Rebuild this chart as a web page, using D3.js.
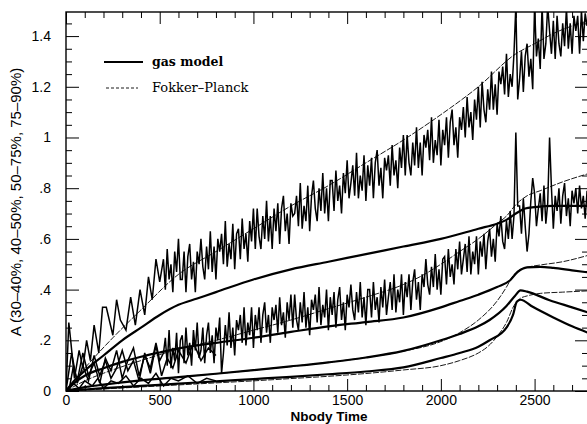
<!DOCTYPE html>
<html>
<head>
<meta charset="utf-8">
<script src="https://cdn.jsdelivr.net/npm/d3@7"></script>
<style>
  body { margin: 0; background: #fff; }
  svg { display: block; }
</style>
</head>
<body>
<div id="chart"></div>
<script>
// axis ticks
const xMajor = [0, 500, 1000, 1500, 2000, 2500];
const yMajor = [0, 0.2, 0.4, 0.6, 0.8, 1.0, 1.2, 1.4];
const yLabels = ["0", ".2", ".4", ".6", ".8", "1", "1.2", "1.4"];

// N-body runs: sparse early samples, then dense samples every 10 time units
const topEarlyT = [0, 15, 25, 45, 70, 90, 110, 130, 150, 175, 195, 215, 250, 270, 290, 320, 345, 370, 395, 420, 440, 460, 480, 500];
const topEarlyA = [0, 0.27, 0.20, 0.05, 0.16, 0.09, 0.20, 0.12, 0.26, 0.15, 0.33, 0.33, 0.22, 0.36, 0.28, 0.24, 0.37, 0.26, 0.40, 0.30, 0.45, 0.36, 0.52, 0.43];
const denseT = d3.range(520, 2781, 10);
const topDenseA = [
  0.52, 0.40, 0.56, 0.44, 0.50, 0.39, 0.55, 0.47, 0.60, 0.44,
  0.44, 0.55, 0.39, 0.53, 0.58, 0.44, 0.51, 0.39, 0.55, 0.50,
  0.60, 0.49, 0.44, 0.57, 0.48, 0.63, 0.47, 0.57, 0.44, 0.60,
  0.55, 0.62, 0.50, 0.67, 0.49, 0.58, 0.52, 0.66, 0.48, 0.62,
  0.64, 0.52, 0.68, 0.56, 0.62, 0.51, 0.67, 0.59, 0.72, 0.56,
  0.72, 0.61, 0.56, 0.69, 0.60, 0.75, 0.59, 0.69, 0.56, 0.72,
  0.63, 0.74, 0.58, 0.72, 0.77, 0.63, 0.70, 0.58, 0.74, 0.69,
  0.70, 0.77, 0.65, 0.82, 0.64, 0.73, 0.67, 0.81, 0.63, 0.77,
  0.83, 0.72, 0.67, 0.80, 0.71, 0.86, 0.70, 0.80, 0.67, 0.83,
  0.83, 0.71, 0.87, 0.75, 0.81, 0.70, 0.86, 0.78, 0.91, 0.76,
  0.82, 0.89, 0.77, 0.94, 0.76, 0.85, 0.79, 0.93, 0.75, 0.89,
  0.81, 0.92, 0.76, 0.90, 0.95, 0.81, 0.88, 0.76, 0.92, 0.87,
  0.93, 0.81, 0.97, 0.85, 0.91, 0.80, 0.96, 0.88, 1.01, 0.85,
  1.01, 0.90, 0.85, 0.98, 0.89, 1.04, 0.88, 0.98, 0.85, 1.01,
  0.96, 1.03, 0.91, 1.08, 0.90, 0.99, 0.93, 1.07, 0.89, 1.03,
  0.97, 1.08, 0.92, 1.06, 1.11, 0.97, 1.04, 0.92, 1.08, 1.03,
  1.12, 1.00, 1.16, 1.04, 1.10, 0.99, 1.15, 1.07, 1.20, 1.04,
  1.22, 1.11, 1.06, 1.19, 1.11, 1.26, 1.11, 1.21, 1.09, 1.26,
  1.21, 1.28, 1.17, 1.33, 1.16, 1.25, 1.20, 1.33, 1.52, 1.15,
  1.23, 1.34, 1.18, 1.32, 1.37, 1.24, 1.31, 1.19, 1.52, 1.32,
  1.39, 1.27, 1.52, 1.31, 1.37, 1.52, 1.42, 1.33, 1.46, 1.31,
  1.48, 1.37, 1.32, 1.45, 1.36, 1.51, 1.35, 1.45, 1.33, 1.48,
  1.42, 1.48, 1.33, 1.50, 1.38, 1.49, 1.44
];
const midEarlyT = [0, 20, 40, 60, 90, 120, 150, 180, 210, 240, 270, 300, 330, 360, 390, 420, 450, 480, 500];
const midEarlyA = [0, 0.02, 0.10, 0.04, 0.15, 0.06, 0.11, 0.03, 0.13, 0.08, 0.16, 0.05, 0.12, 0.17, 0.06, 0.14, 0.09, 0.19, 0.12];
const midDenseA = [
  0.15, 0.21, 0.10, 0.24, 0.09, 0.17, 0.12, 0.23, 0.07, 0.20,
  0.22, 0.11, 0.25, 0.14, 0.19, 0.10, 0.24, 0.16, 0.27, 0.13,
  0.16, 0.25, 0.11, 0.22, 0.27, 0.15, 0.22, 0.11, 0.25, 0.20,
  0.29, 0.07, 0.15, 0.26, 0.18, 0.31, 0.17, 0.25, 0.14, 0.28,
  0.24, 0.30, 0.19, 0.33, 0.18, 0.27, 0.22, 0.33, 0.17, 0.30,
  0.24, 0.33, 0.19, 0.30, 0.35, 0.23, 0.30, 0.19, 0.33, 0.28,
  0.34, 0.23, 0.37, 0.26, 0.31, 0.21, 0.35, 0.28, 0.38, 0.25,
  0.38, 0.28, 0.24, 0.35, 0.27, 0.39, 0.25, 0.33, 0.22, 0.36,
  0.32, 0.38, 0.27, 0.41, 0.26, 0.34, 0.29, 0.40, 0.24, 0.37,
  0.30, 0.39, 0.25, 0.36, 0.41, 0.28, 0.35, 0.24, 0.38, 0.33,
  0.42, 0.32, 0.28, 0.39, 0.31, 0.43, 0.29, 0.37, 0.26, 0.40,
  0.40, 0.29, 0.43, 0.32, 0.37, 0.27, 0.41, 0.33, 0.44, 0.30,
  0.37, 0.43, 0.32, 0.46, 0.31, 0.40, 0.35, 0.46, 0.30, 0.43,
  0.37, 0.46, 0.32, 0.43, 0.48, 0.36, 0.43, 0.32, 0.46, 0.41,
  0.52, 0.42, 0.38, 0.49, 0.41, 0.54, 0.40, 0.48, 0.38, 0.52,
  0.53, 0.42, 0.56, 0.45, 0.50, 0.42, 0.56, 0.48, 0.59, 0.46,
  0.52, 0.58, 0.47, 0.61, 0.46, 0.55, 0.50, 0.61, 0.46, 0.59,
  0.53, 0.62, 0.48, 0.59, 0.64, 0.53, 0.60, 0.51, 0.66, 0.61,
  0.69, 0.59, 0.56, 0.67, 0.60, 0.71, 0.60, 0.69, 1.02, 0.73,
  0.73, 0.62, 0.76, 0.65, 0.55, 0.62, 0.75, 0.84, 0.78, 0.65,
  0.72, 0.78, 0.67, 0.81, 0.66, 0.74, 1.00, 0.80, 0.64, 0.77,
  0.71, 0.80, 0.66, 0.77, 0.82, 0.69, 0.76, 0.65, 0.79, 0.74,
  0.80, 0.70, 0.81, 0.72, 0.77, 0.68, 0.79
];
const low40T = [0, 30, 60, 90, 120, 150, 180, 210, 240, 270, 300, 330, 360, 390, 420, 450, 480, 510, 540, 570, 600, 640, 680, 720, 760, 800];
const low40A = [0, 0.15, 0.03, 0.10, 0.04, 0.14, 0.06, 0.12, 0.05, 0.09, 0.16, 0.08, 0.12, 0.04, 0.15, 0.07, 0.18, 0.06, 0.13, 0.09, 0.16, 0.11, 0.19, 0.12, 0.17, 0.14];
const low30T = [0, 40, 70, 100, 140, 170, 200, 240, 280, 320, 360, 400, 440, 480, 520, 560, 600, 650, 700, 750, 800];
const low30A = [0, 0.03, 0.01, 0.04, 0.02, 0.05, 0.01, 0.04, 0.03, 0.06, 0.02, 0.05, 0.03, 0.07, 0.02, 0.05, 0.04, 0.06, 0.03, 0.05, 0.04];

// gas model curves
const gas1T = [0, 50, 100, 200, 300, 400, 500, 600, 700, 800, 1000, 1200, 1400, 1600, 1800, 2000, 2200, 2300, 2350, 2400, 2450, 2500, 2600, 2700, 2785];
const gas1A = [0, 0.045, 0.08, 0.14, 0.20, 0.25, 0.30, 0.34, 0.365, 0.39, 0.44, 0.48, 0.51, 0.54, 0.57, 0.60, 0.64, 0.66, 0.675, 0.70, 0.72, 0.725, 0.73, 0.73, 0.73];
const gas2T = [0, 50, 100, 200, 300, 400, 500, 600, 800, 1000, 1200, 1400, 1600, 1800, 2000, 2100, 2200, 2300, 2370, 2410, 2460, 2530, 2600, 2700, 2785];
const gas2A = [0, 0.035, 0.06, 0.09, 0.115, 0.135, 0.152, 0.168, 0.19, 0.21, 0.233, 0.255, 0.272, 0.29, 0.33, 0.355, 0.38, 0.41, 0.437, 0.47, 0.488, 0.49, 0.486, 0.476, 0.468];
const gas3T = [0, 100, 200, 400, 600, 800, 1000, 1200, 1400, 1600, 1800, 2000, 2100, 2200, 2260, 2350, 2395, 2425, 2460, 2580, 2700, 2785];
const gas3A = [0, 0.015, 0.025, 0.042, 0.055, 0.068, 0.082, 0.097, 0.113, 0.132, 0.158, 0.2, 0.225, 0.255, 0.28, 0.335, 0.375, 0.397, 0.392, 0.358, 0.33, 0.31];
const gas4T = [0, 100, 200, 400, 600, 800, 1000, 1200, 1400, 1600, 1800, 2000, 2100, 2200, 2260, 2350, 2385, 2405, 2425, 2490, 2600, 2700, 2785];
const gas4A = [0, 0.006, 0.011, 0.02, 0.029, 0.038, 0.047, 0.056, 0.066, 0.077, 0.093, 0.13, 0.15, 0.175, 0.2, 0.25, 0.3, 0.352, 0.36, 0.332, 0.29, 0.255, 0.23];

// Fokker-Planck curves
const fp1T = [0, 100, 250, 400, 600, 800, 1000, 1200, 1400, 1600, 1800, 2000, 2200, 2400, 2500, 2600, 2700, 2785];
const fp1A = [0, 0.09, 0.21, 0.32, 0.46, 0.55, 0.64, 0.73, 0.81, 0.90, 0.99, 1.09, 1.20, 1.33, 1.37, 1.41, 1.44, 1.46];
const fp2T = [0, 100, 200, 400, 600, 800, 1000, 1200, 1400, 1600, 1800, 1900, 2000, 2100, 2200, 2300, 2350, 2400, 2460, 2530, 2650, 2785];
const fp2A = [0, 0.04, 0.07, 0.12, 0.165, 0.2, 0.24, 0.28, 0.325, 0.37, 0.42, 0.455, 0.5, 0.55, 0.6, 0.66, 0.69, 0.735, 0.77, 0.79, 0.825, 0.857];
const fp3T = [0, 200, 400, 600, 800, 1000, 1200, 1400, 1600, 1800, 2000, 2100, 2200, 2300, 2350, 2385, 2420, 2460, 2530, 2650, 2785];
const fp3A = [0, 0.025, 0.042, 0.055, 0.068, 0.082, 0.097, 0.113, 0.132, 0.157, 0.195, 0.23, 0.28, 0.355, 0.41, 0.455, 0.478, 0.488, 0.497, 0.51, 0.535];
const fp4T = [0, 200, 400, 600, 800, 1000, 1200, 1400, 1600, 1800, 2000, 2100, 2200, 2250, 2300, 2353, 2385, 2423, 2460, 2530, 2650, 2785];
const fp4A = [0, 0.008, 0.016, 0.024, 0.032, 0.04, 0.049, 0.058, 0.069, 0.083, 0.1, 0.12, 0.15, 0.175, 0.215, 0.275, 0.33, 0.365, 0.375, 0.385, 0.39, 0.395];

const W = 587, H = 424;
const box = {left: 66, right: 588, top: 12, bottom: 391};

const svg = d3.select("#chart").append("svg")
  .attr("width", W).attr("height", H);

const x = d3.scaleLinear().domain([0, 2785]).range([box.left, box.right]);
const y = d3.scaleLinear().domain([0, 1.495]).range([box.bottom, box.top]);

const zip = (ts, as) => ts.map((t, i) => [t, as[i]]);

svg.append("clipPath").attr("id", "plot")
  .append("rect")
    .attr("x", box.left).attr("y", box.top)
    .attr("width", box.right - box.left).attr("height", box.bottom - box.top);

const g = svg.append("g").attr("clip-path", "url(#plot)");

const rough = d3.line().x(d => x(d[0])).y(d => y(d[1]));
const smooth = d3.line().x(d => x(d[0])).y(d => y(d[1])).curve(d3.curveMonotoneX);

// N-body data
const nbody = [
  zip(low30T, low30A),
  zip(low40T, low40A),
  zip(midEarlyT.concat(denseT), midEarlyA.concat(midDenseA)),
  zip(topEarlyT.concat(denseT), topEarlyA.concat(topDenseA))
];
g.selectAll("path.nbody").data(nbody).join("path")
  .attr("class", "nbody")
  .attr("fill", "none").attr("stroke", "#000")
  .attr("stroke-width", 1.5).attr("stroke-linejoin", "miter")
  .attr("d", rough);

// Fokker-Planck
const fp = [zip(fp1T, fp1A), zip(fp2T, fp2A), zip(fp3T, fp3A), zip(fp4T, fp4A)];
g.selectAll("path.fp").data(fp).join("path")
  .attr("class", "fp")
  .attr("fill", "none").attr("stroke", "#000")
  .attr("stroke-width", 0.9).attr("stroke-dasharray", "6,1.5")
  .attr("d", smooth);

// gas model
const gas = [zip(gas1T, gas1A), zip(gas2T, gas2A), zip(gas3T, gas3A), zip(gas4T, gas4A)];
g.selectAll("path.gas").data(gas).join("path")
  .attr("class", "gas")
  .attr("fill", "none").attr("stroke", "#000")
  .attr("stroke-width", 2.2)
  .attr("d", smooth);

// axes: ticks on all four sides, pointing inward
const font = "'Liberation Sans', Arial, sans-serif";
const xMinor = d3.range(0, 2785, 100).filter(v => v % 500 !== 0);
const yMinor = d3.range(0, 1.495, 0.05).filter((v, i) => i % 4 !== 0);

function styleAxis(sel) {
  sel.select(".domain").remove();
  sel.selectAll("line").attr("stroke", "#000").attr("stroke-width", 1);
  sel.selectAll("text").attr("font-family", font).attr("font-size", 14).attr("fill", "#000");
}

svg.append("g").attr("transform", `translate(0,${box.bottom})`)
  .call(d3.axisBottom(x).tickValues(xMajor).tickSize(-12).tickPadding(4).tickFormat(d3.format("d")))
  .call(styleAxis);
svg.append("g").attr("transform", `translate(0,${box.bottom})`)
  .call(d3.axisBottom(x).tickValues(xMinor).tickSize(-6).tickFormat(""))
  .call(styleAxis);
svg.append("g").attr("transform", `translate(0,${box.top})`)
  .call(d3.axisTop(x).tickValues(xMajor).tickSize(-12).tickFormat(""))
  .call(styleAxis);
svg.append("g").attr("transform", `translate(0,${box.top})`)
  .call(d3.axisTop(x).tickValues(xMinor).tickSize(-6).tickFormat(""))
  .call(styleAxis);

svg.append("g").attr("transform", `translate(${box.left},0)`)
  .call(d3.axisLeft(y).tickValues(yMajor).tickSize(-13).tickPadding(15)
    .tickFormat((d, i) => yLabels[i]))
  .call(styleAxis);
svg.append("g").attr("transform", `translate(${box.left},0)`)
  .call(d3.axisLeft(y).tickValues(yMinor).tickSize(-6).tickFormat(""))
  .call(styleAxis);
svg.append("g").attr("transform", `translate(${box.right},0)`)
  .call(d3.axisRight(y).tickValues(yMajor).tickSize(-13).tickFormat(""))
  .call(styleAxis);
svg.append("g").attr("transform", `translate(${box.right},0)`)
  .call(d3.axisRight(y).tickValues(yMinor).tickSize(-6).tickFormat(""))
  .call(styleAxis);

// frame
svg.append("rect")
  .attr("x", box.left).attr("y", box.top)
  .attr("width", box.right - box.left).attr("height", box.bottom - box.top)
  .attr("fill", "none").attr("stroke", "#000").attr("stroke-width", 1.4);

// axis titles
svg.append("text")
  .attr("x", 329).attr("y", 420.5)
  .attr("text-anchor", "middle")
  .attr("font-family", font).attr("font-size", 13.5).attr("font-weight", "bold")
  .text("Nbody Time");

svg.append("text")
  .attr("transform", "translate(21,202) rotate(-90)")
  .attr("text-anchor", "middle")
  .attr("font-family", font).attr("font-size", 15)
  .text("A (30–40%, 40–50%, 50–75%, 75–90%)");

// legend
const serif = "'DejaVu Serif', serif";
svg.append("line")
  .attr("x1", 104).attr("x2", 143).attr("y1", 62).attr("y2", 62)
  .attr("stroke", "#000").attr("stroke-width", 2.2);
svg.append("text")
  .attr("x", 152).attr("y", 66)
  .attr("font-family", serif).attr("font-size", 12.5).attr("font-weight", "bold")
  .text("gas model");
svg.append("line")
  .attr("x1", 106).attr("x2", 138).attr("y1", 88).attr("y2", 88)
  .attr("stroke", "#000").attr("stroke-width", 0.9).attr("stroke-dasharray", "3,2");
svg.append("text")
  .attr("x", 152).attr("y", 92)
  .attr("font-family", serif).attr("font-size", 13)
  .text("Fokker–Planck");
</script>
</body>
</html>
